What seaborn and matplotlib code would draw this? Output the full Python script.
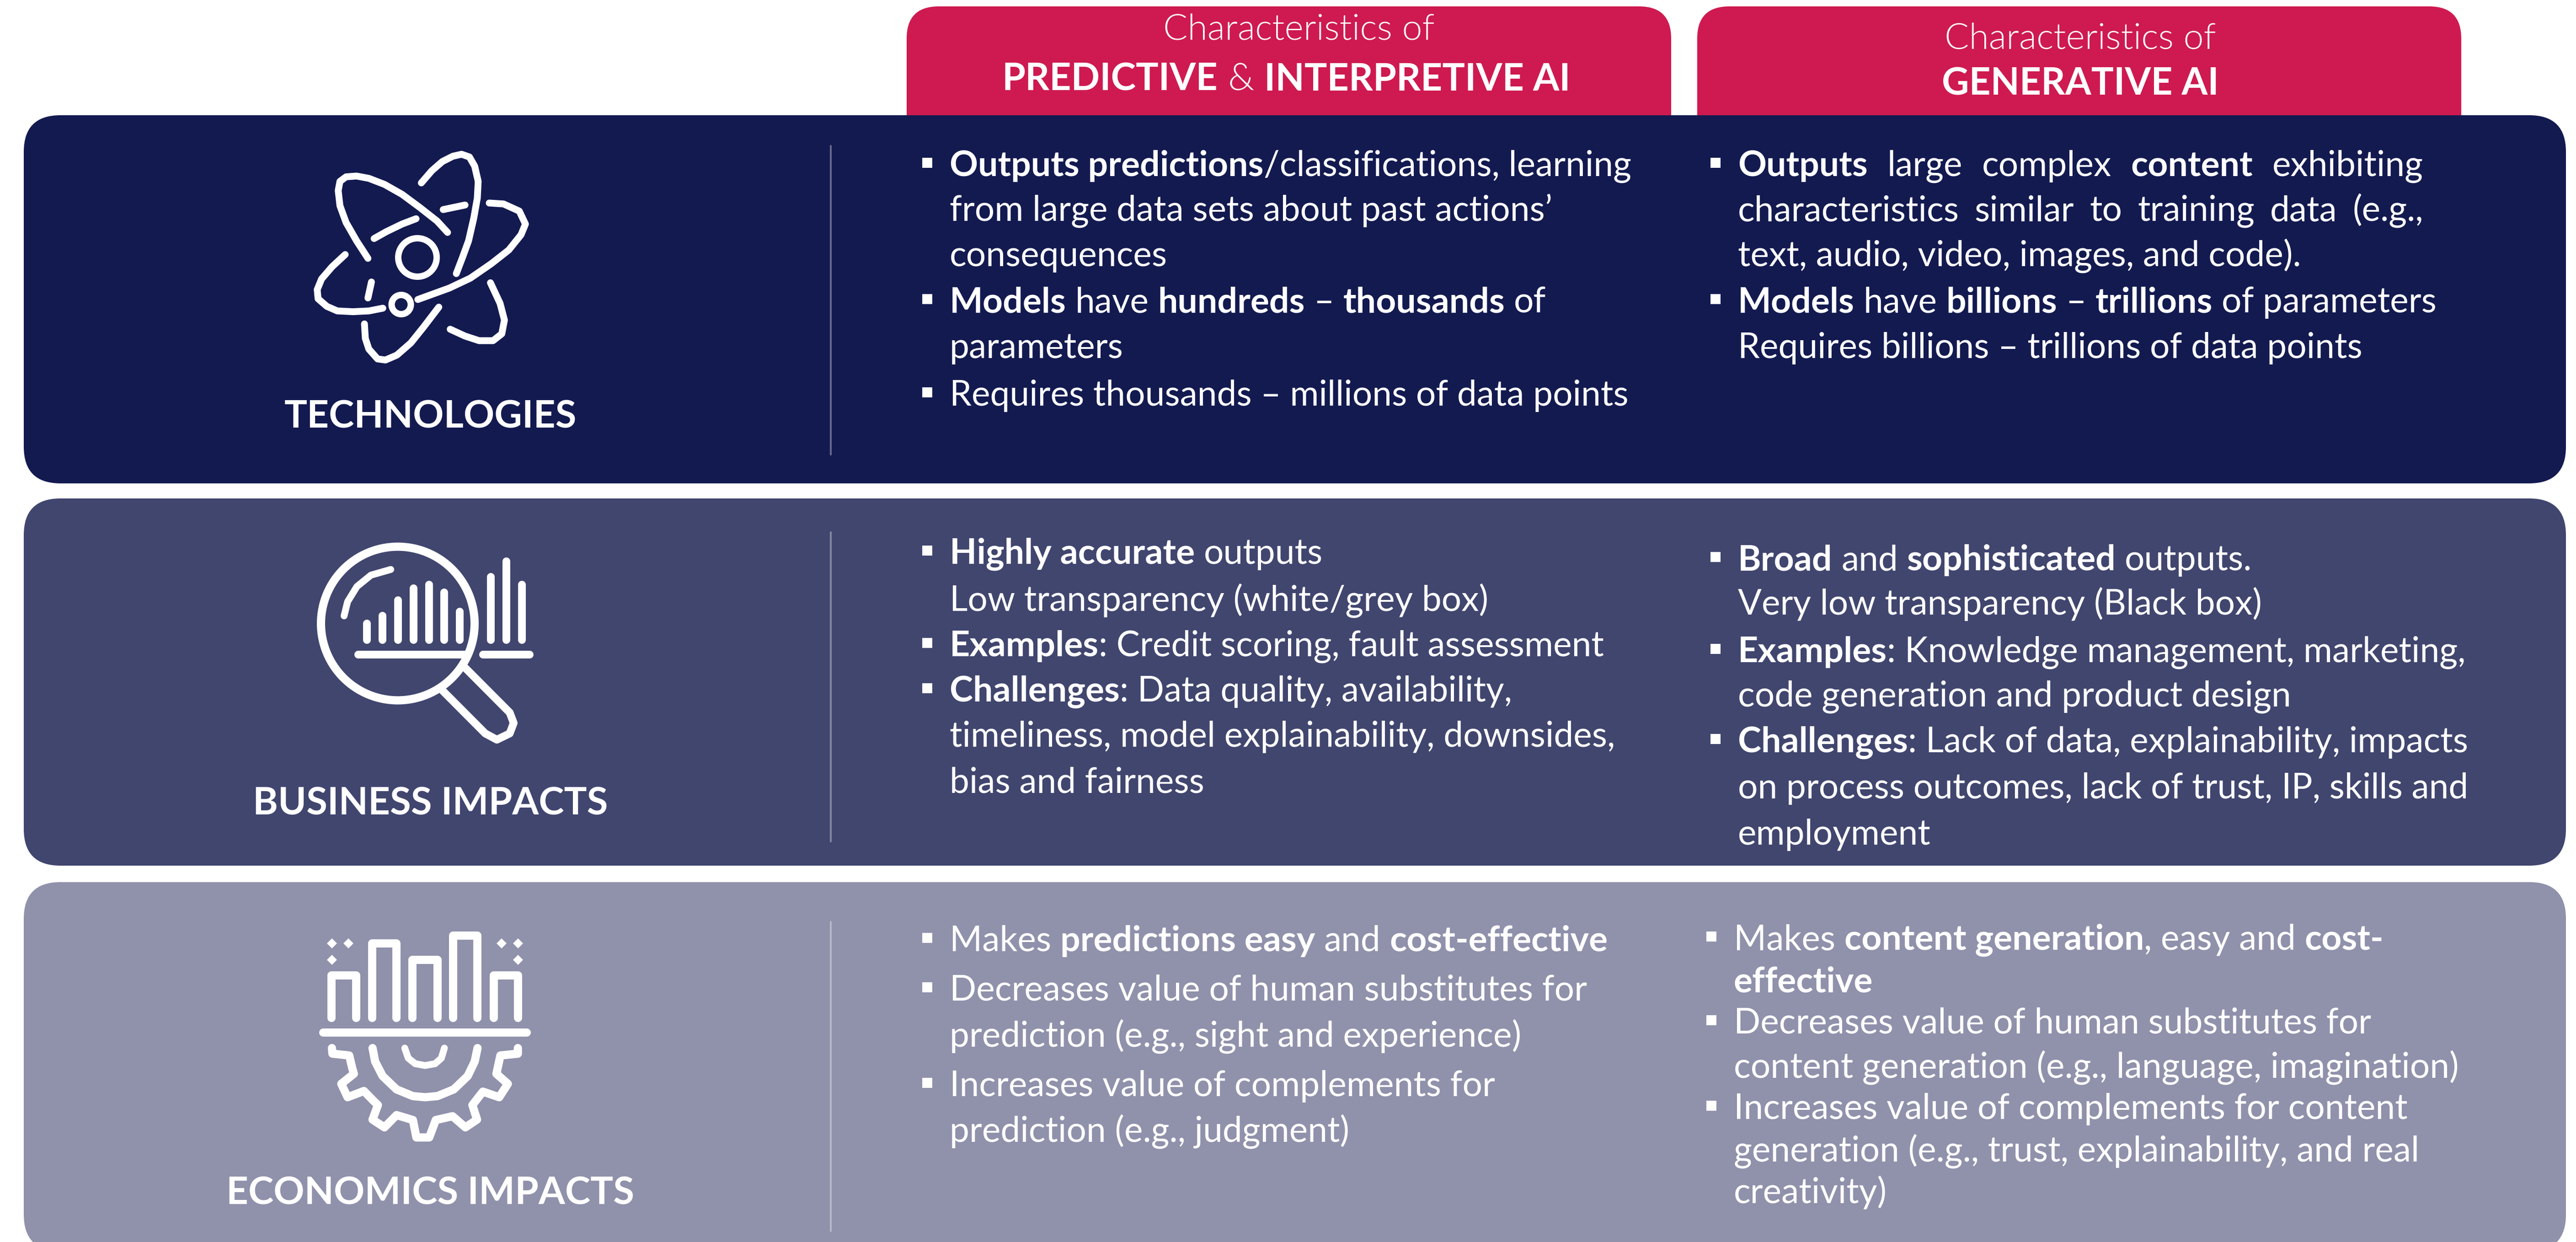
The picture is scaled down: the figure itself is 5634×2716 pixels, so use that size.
"""Predictive vs generative AI comparison panel, rebuilt with seaborn + matplotlib."""
import matplotlib
matplotlib.use("Agg")
import matplotlib.pyplot as plt
from matplotlib.patches import FancyBboxPatch, Circle, Rectangle
import seaborn as sns

# ----------------------------------------------------------------------
# 1. Content
# ----------------------------------------------------------------------
row_names = ["TECHNOLOGIES", "BUSINESS IMPACTS", "ECONOMICS IMPACTS"]
column_small = ["Characteristics of", "Characteristics of"]
column_big = [[("PREDICTIVE", True), (" & ", False), ("INTERPRETIVE AI", True)],
              [("GENERATIVE AI", True)]]

# "* " marks a bulleted line, **...** marks bold runs
tech_pred = ["* **Outputs predictions**/classifications, learning",
             "from large data sets about past actions’",
             "consequences",
             "* **Models** have **hundreds** – **thousands** of",
             "parameters",
             "* Requires thousands – millions of data points"]
tech_gen = ["* **Outputs** large complex **content** exhibiting",
            "characteristics similar to training data (e.g.,",
            "text, audio, video, images, and code).",
            "* **Models** have **billions** – **trillions** of parameters",
            "Requires billions – trillions of data points"]
biz_pred = ["* **Highly accurate** outputs",
            "Low transparency (white/grey box)",
            "* **Examples**: Credit scoring, fault assessment",
            "* **Challenges**: Data quality, availability,",
            "timeliness, model explainability, downsides,",
            "bias and fairness"]
biz_gen = ["* **Broad** and **sophisticated** outputs.",
           "Very low transparency (Black box)",
           "* **Examples**: Knowledge management, marketing,",
           "code generation and product design",
           "* **Challenges**: Lack of data, explainability, impacts",
           "on process outcomes, lack of trust, IP, skills and",
           "employment"]
econ_pred = ["* Makes **predictions easy** and **cost-effective**",
             "* Decreases value of human substitutes for",
             "prediction (e.g., sight and experience)",
             "* Increases value of complements for",
             "prediction (e.g., judgment)"]
econ_gen = ["* Makes **content generation**, easy and **cost-**",
            "**effective**",
            "* Decreases value of human substitutes for",
            "content generation (e.g., language, imagination)",
            "* Increases value of complements for content",
            "generation (e.g., trust, explainability, and real",
            "creativity)"]

# ----------------------------------------------------------------------
# 2. Style and layout (full-size pixels)
# ----------------------------------------------------------------------
sns.set_theme(style="white")
plt.rcParams["font.family"] = ["Lato", "DejaVu Sans"]

navy, slate, lilac = sns.color_palette(["#131A50", "#41466F", "#9091AB"])
crimson = "#CE1A50"

W, H = 5634, 2716
PX = 0.72  # px -> pt at dpi 100
BODY = 76.8
BODY_BOLD = 77
fig = plt.figure(figsize=(W / 100, H / 100), dpi=100)
ax = fig.add_axes([0, 0, 1, 1])
ax.set_xlim(0, W)
ax.set_ylim(H, 0)
ax.axis("off")
sns.despine(ax=ax, left=True, bottom=True)
renderer = fig.canvas.get_renderer()


def advance(s, weight, px):
    # width including leading/trailing spaces
    t = ax.text(0, 0, "|" + s + "|", fontsize=px * PX, fontweight=weight)
    w = t.get_window_extent(renderer).width
    t.set_text("||")
    w -= t.get_window_extent(renderer).width
    t.remove()
    return w


def parse(line):
    runs = []
    for i, part in enumerate(line.split("**")):
        if part:
            runs.append((part, i % 2 == 1))
    return runs


def draw_runs(runs, x, y, px, bold_px, regular=400, target=None):
    if target is not None:
        # stretch word gaps so the line fills the column, as in the source
        words = []
        for s, b in runs:
            words += [(w, b) for w in s.split()]
        total = sum(advance(w, "bold" if b else regular, bold_px if b else px) for w, b in words)
        gap = (target - total) / (len(words) - 1)
        for w, b in words:
            size = bold_px if b else px
            weight = "bold" if b else regular
            ax.text(x, y, w, fontsize=size * PX, color="white", va="baseline", ha="left", fontweight=weight)
            x += advance(w, weight, size) + gap
        return
    for s, b in runs:
        size = bold_px if b else px
        weight = "bold" if b else regular
        lead = len(s) - len(s.lstrip(" "))
        ax.text(x + advance(" " * lead, weight, size) if lead else x, y, s.strip(" "), fontsize=size * PX,
                color="white", va="baseline", ha="left", fontweight=weight)
        x += advance(s, weight, size)


def draw_cell(lines, x_text, x_bullet, baselines, targets=None):
    for i, (line, y) in enumerate(zip(lines, baselines)):
        if line.startswith("* "):
            line = line[2:]
            ax.add_patch(Rectangle((x_bullet - 11, y - 40), 22, 22, color="white", lw=0, zorder=5))
        target = None if targets is None else targets.get(i)
        draw_runs(parse(line), x_text, y, BODY, BODY_BOLD, target=target)


def centred(runs, cx, y, px, regular=300):
    total = sum(advance(s, "bold" if b else regular, px) for s, b in runs)
    draw_runs(runs, cx - total / 2, y, px, px, regular=regular)


def stroke(points, lw, sx, sy, x0, y0):
    xs = [x0 + p[0] * sx for p in points]
    ys = [y0 + p[1] * sy for p in points]
    ax.plot(xs, ys, color="white", lw=lw * PX, solid_capstyle="round", solid_joinstyle="round")


# ----------------------------------------------------------------------
# 3. Tabs, panels, separators
# ----------------------------------------------------------------------
for x0, x1 in [(1983, 3655), (3712, 5383)]:
    ax.add_patch(FancyBboxPatch((x0, 14), x1 - x0, 400, boxstyle="round,pad=0,rounding_size=70",
                                fc=crimson, ec="none", zorder=1))

panels = [(252, 1057, navy), (1090, 1893, slate), (1929, 2736, lilac)]
for top, bottom, col in panels:
    ax.add_patch(FancyBboxPatch((52, top), 5560, bottom - top, boxstyle="round,pad=0,rounding_size=80",
                                fc=col, ec="none", zorder=2))
for y0, y1 in [(319, 994), (1164, 1840), (2016, 2692)]:
    ax.plot([1817, 1817], [y0, y1], color="white", alpha=0.35, lw=3, zorder=3)

# ----------------------------------------------------------------------
# 4. Headers and row labels
# ----------------------------------------------------------------------
centred([(column_small[0], False)], 2841, 88, 79)
centred(column_big[0], 2813, 198, 82.5)
centred([(column_small[1], False)], 4550, 108, 79)
centred(column_big[1], 4550, 208, 82)

for name, y in zip(row_names, [935, 1781, 2633]):
    centred([(name, True)], 941, y, 83.5)

# ----------------------------------------------------------------------
# 5. Text cells
# ----------------------------------------------------------------------
draw_cell(tech_pred, 2077, 2028, [385, 483, 582, 683, 783, 887])
draw_cell(tech_gen, 3801, 3752, [385, 483, 582, 683, 783], targets={0: 1499, 1: 1499})
draw_cell(biz_pred, 2077, 2028, [1233, 1336, 1435, 1534, 1633, 1733])
draw_cell(biz_gen, 3801, 3752, [1247, 1344, 1448, 1545, 1645, 1746, 1847])
draw_cell(econ_pred, 2077, 2028, [2080, 2188, 2289, 2397, 2497])
draw_cell(econ_gen, 3792, 3743, [2077, 2170, 2260, 2357, 2447, 2540, 2630])

# ----------------------------------------------------------------------
# 6. Icons
# ----------------------------------------------------------------------
# atom
atom_sx, atom_sy = 0.3827, 0.3333
atom_strokes = [
    [(535, 795), (470, 680), (410, 560), (375, 450), (365, 350), (375, 290), (410, 260), (470, 255),
     (540, 270), (630, 310), (730, 375), (830, 460), (930, 550), (990, 625)],
    [(840, 300), (900, 220), (960, 160), (1020, 125), (1070, 112), (1115, 130), (1145, 190), (1165, 290),
     (1160, 400), (1140, 530), (1110, 680), (1075, 790), (1040, 895)],
    [(1228, 432), (1310, 438), (1400, 485), (1435, 570), (1410, 640), (1340, 740), (1240, 830), (1120, 925),
     (1000, 990), (820, 1065)],
    [(405, 770), (330, 850), (270, 930), (245, 1000), (250, 1060), (300, 1110), (360, 1140), (450, 1145),
     (540, 1140), (620, 1122)],
    [(515, 1225), (520, 1320), (540, 1390), (590, 1455), (635, 1462), (700, 1430), (780, 1350), (850, 1250),
     (940, 1115)],
    [(1005, 1260), (1090, 1305), (1170, 1335), (1250, 1335), (1300, 1290), (1315, 1200), (1290, 1090),
     (1235, 955)],
    [(965, 475), (1090, 445)],
    [(570, 665), (640, 620), (730, 570), (810, 535)],
    [(555, 950), (535, 1055)],
]
for pts in atom_strokes:
    stroke(pts, 15, atom_sx, atom_sy, 600, 300)
ax.add_patch(Circle((913, 563), 42, fc="none", ec="white", lw=14 * PX, zorder=4))
ax.add_patch(Circle((877.5, 666), 21, fc="none", ec="white", lw=14 * PX, zorder=4))

# magnifier over a small bar glyph
mag_sx, mag_sy = 0.5102, 0.4145
ax.add_patch(Circle((870, 1363.5), 168, fc="none", ec="white", lw=18 * PX, zorder=4))
glyph_x = [592, 658, 725, 791, 858, 924, 990, 1123, 1190, 1256]
glyph_top = [495, 455, 372, 311, 290, 331, 433, 250, 168, 290]
for gx, gt in zip(glyph_x, glyph_top):
    stroke([(gx, gt + 18), (gx, 600)], 17, mag_sx, mag_sy, 500, 1150)
stroke([(555, 678), (1018, 678)], 17, mag_sx, mag_sy, 500, 1150)
stroke([(1090, 678), (1290, 678)], 17, mag_sx, mag_sy, 500, 1150)
stroke([(918, 870), (1100, 1095), (1150, 1128), (1205, 1095), (1222, 1040), (1205, 985), (1015, 750)],
       17, mag_sx, mag_sy, 500, 1150)
stroke([(495, 475), (510, 400), (550, 320), (610, 260), (695, 230)], 15, mag_sx, mag_sy, 500, 1150)

# gear under a skyline
eco_sx, eco_sy = 0.5102, 0.4885
for left, top, right in [(441, 375, 547), (616, 232, 720), (788, 305, 895), (962, 196, 1067), (1136, 375, 1240)]:
    stroke([(left, 565), (left, top), (right, top), (right, 565)], 18, eco_sx, eco_sy, 500, 1950)
stroke([(405, 630), (1278, 630)], 18, eco_sx, eco_sy, 500, 1950)
for dx, dy in [(443, 232), (513, 232), (443, 304), (1170, 232), (1240, 232), (1240, 304)]:
    ax.plot([500 + dx * eco_sx], [1950 + dy * eco_sy], marker="D", color="white", ms=12 * PX * 1.35, mew=0)
gear_outer = [(443, 700), (445, 725), (517, 733), (530, 790), (537, 815), (483, 860), (510, 920), (580, 892),
              (620, 935), (640, 955), (617, 1020), (668, 1055), (720, 1000), (790, 1022), (805, 1100), (860, 1100),
              (888, 1022), (960, 1005), (1015, 1055), (1065, 1020), (1045, 955), (1090, 895), (1160, 920),
              (1197, 860), (1148, 815), (1165, 733), (1240, 725), (1240, 700)]
stroke(gear_outer, 18, eco_sx, eco_sy, 500, 1950)
stroke([(617, 700), (628, 760), (660, 825), (720, 885), (790, 915), (842, 920), (895, 915), (965, 885),
        (1025, 825), (1055, 760), (1067, 700)], 18, eco_sx, eco_sy, 500, 1950)
stroke([(755, 700), (770, 745), (800, 770), (842, 778), (885, 770), (912, 745), (925, 700)],
       15, eco_sx, eco_sy, 500, 1950)

for artist in ax.lines + ax.texts:
    artist.set_zorder(5)

fig.savefig("out.png", dpi=100, facecolor="white")
